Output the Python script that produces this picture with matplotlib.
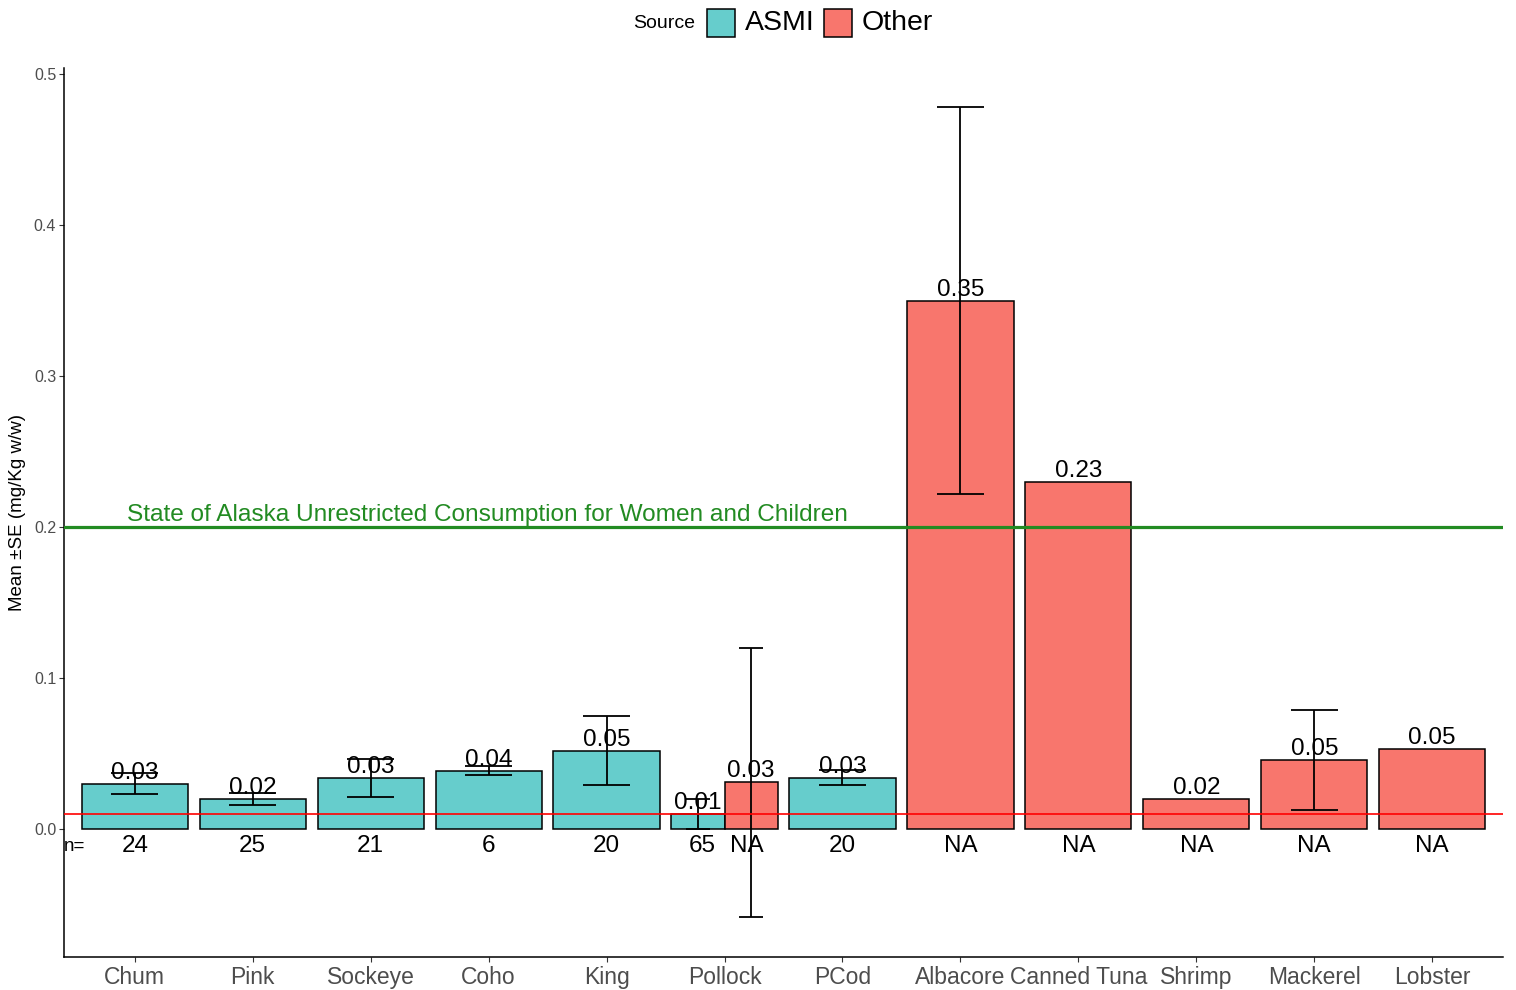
import numpy as np
import matplotlib
matplotlib.use("Agg")
import matplotlib.pyplot as plt
from matplotlib.patches import Rectangle

plt.rcParams['font.family'] = ['Liberation Sans', 'DejaVu Sans']

# Mercury means per species / data source
categories = ['Chum', 'Pink', 'Sockeye', 'Coho', 'King', 'Pollock', 'PCod',
              'Albacore', 'Canned Tuna', 'Shrimp', 'Mackerel', 'Lobster']
species = ['Chum', 'Pink', 'Sockeye', 'Coho', 'King', 'Pollock', 'Pollock', 'PCod',
           'Albacore', 'Canned Tuna', 'Shrimp', 'Mackerel', 'Lobster']
source = ['ASMI', 'ASMI', 'ASMI', 'ASMI', 'ASMI', 'ASMI', 'Other', 'ASMI',
          'Other', 'Other', 'Other', 'Other', 'Other']
means = [0.0300, 0.0198, 0.0337, 0.0387, 0.0518, 0.0098, 0.0310, 0.0338,
         0.3500, 0.2295, 0.0199, 0.0458, 0.0528]
se = [0.0069, 0.0038, 0.0127, 0.0027, 0.0230, 0.0101, 0.0890, 0.0050,
      0.1280, np.nan, np.nan, 0.0330, np.nan]
n_labels = ['24', '25', '21', '6', '20', '65', 'NA', '20', 'NA', 'NA', 'NA', 'NA', 'NA']

colors = {'ASMI': '#66CDCC', 'Other': '#F8766D'}
limit_women_children = 0.2
detection_line = 0.01

fig = plt.figure(figsize=(15.16, 9.9), dpi=100)
ax = fig.add_axes([64 / 1516, 33 / 990, 1439 / 1516, 889 / 990])

# dodge positions: split the 0.9 slot when a species has both sources
xpos, widths, npos = [], [], []
for i, sp in enumerate(species):
    idx = [j for j, s in enumerate(species) if s == sp]
    k = len(idx)
    w = 0.9 / k
    base = categories.index(sp) + 1
    off = -0.45 + w * (idx.index(i) + 0.5)
    xpos.append(base + off)
    npos.append(base + off * 0.75 / 0.9)  # count labels dodge a bit narrower
    widths.append(w)

ax.bar(xpos, means, width=widths, color=[colors[s] for s in source],
       edgecolor='black', linewidth=1.1, zorder=2)

# error bars (mean +/- SE)
for x, m, e, w in zip(xpos, means, se, widths):
    if np.isnan(e):
        continue
    cap = 0.4 * w / 0.9
    ax.vlines(x, m - e, m + e, color='black', lw=1.3, zorder=3)
    ax.hlines([m - e, m + e], x - cap / 2, x + cap / 2, color='black', lw=1.3, zorder=3)

ax.axhline(detection_line, color='red', lw=1.2, zorder=4)
ax.axhline(limit_women_children, color='#228B22', lw=2.3, zorder=4)
ax.text(0.93, limit_women_children + 0.004,
        'State of Alaska Unrestricted Consumption for Women and Children',
        color='#228B22', fontsize=17.6, ha='left', va='baseline', zorder=5)

for x, m in zip(xpos, means):
    ax.text(x, m, f'{m:.2f}', ha='center', va='bottom', fontsize=17.5, zorder=5)
for x, nl in zip(npos, n_labels):
    ax.text(x, -0.0112, nl, ha='center', va='center', fontsize=17.5, zorder=5)
ax.text(0.4, -0.0115, 'n=', ha='left', va='center', fontsize=13.5, zorder=5)

ax.set_xlim(0.4, 12.6)
ax.set_ylim(-0.0848, 0.504)
ax.set_xticks(range(1, len(categories) + 1))
ax.set_xticklabels(categories)
ax.set_yticks([0.0, 0.1, 0.2, 0.3, 0.4, 0.5])
ax.set_yticklabels(['0.0', '0.1', '0.2', '0.3', '0.4', '0.5'])
ax.tick_params(axis='x', labelsize=16.5, labelcolor='#4D4D4D', color='#333333',
               length=3.6, width=0.8, pad=3)
ax.tick_params(axis='y', labelsize=11.5, labelcolor='#4D4D4D', color='#333333',
               length=3.6, width=0.8, pad=2)
ax.set_ylabel('Mean \u00b1SE (mg/Kg w/w)', fontsize=13.5)
ax.yaxis.set_label_coords(-46 / 1439, 0.5)
ax.yaxis.label.set_va('center')
for side in ['top', 'right']:
    ax.spines[side].set_visible(False)
for side in ['left', 'bottom']:
    ax.spines[side].set_linewidth(1.1)

# legend along the top
W, H = 1516, 990
fig.text(695 / W, 1 - 23 / H, 'Source', fontsize=14, ha='right', va='center')
for x0, lab in [(707, 'ASMI'), (824, 'Other')]:
    fig.add_artist(Rectangle((x0 / W, 1 - 37 / H), 28 / W, 28 / H,
                             transform=fig.transFigure, facecolor=colors[lab],
                             edgecolor='black', linewidth=1.1))
    fig.text((x0 + 38) / W, 1 - 23 / H, lab, fontsize=20.5, ha='left', va='center')

fig.savefig('out.png', dpi=100)
